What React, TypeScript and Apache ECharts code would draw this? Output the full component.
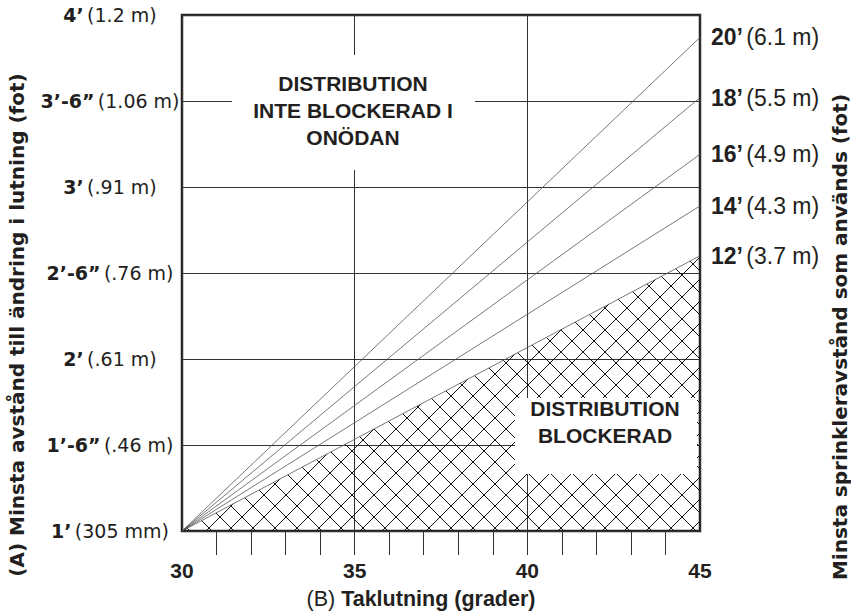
import React, { useEffect, useRef } from "react";
import * as echarts from "echarts";

// ---- data ----
const slopeStart = 30;
const slopeEnd = 45;
const xTickLabels = [30, 35, 40, 45];
const minorTickDegrees = [31, 32, 33, 34, 35, 36, 37, 38, 39, 40, 41, 42, 43, 44];
const yTickValues = [1, 1.5, 2, 2.5, 3, 3.5, 4];
const yTickFeet = ["1’", "1’-6”", "2’", "2’-6”", "3’", "3’-6”", "4’"];
const yTickMetric = ["(305 mm)", "(.46 m)", "(.61 m)", "(.76 m)", "(.91 m)", "(1.06 m)", "(1.2 m)"];
const spacingFeet = ["12’", "14’", "16’", "18’", "20’"];
const spacingMetric = ["(3.7 m)", "(4.3 m)", "(4.9 m)", "(5.5 m)", "(6.1 m)"];
const distanceAtStart = 1; // ft at 30°
const distanceAtEnd = [2.6, 2.89, 3.19, 3.52, 3.87]; // ft at 45°

const TXT = "#231f20";
const ARIAL = "'Liberation Sans', Arial, sans-serif";
const WIDE = "'DejaVu Sans', sans-serif";

function makeHatch(): HTMLCanvasElement {
  const c = document.createElement("canvas");
  c.width = 22;
  c.height = 22;
  const ctx = c.getContext("2d")!;
  ctx.strokeStyle = "#111";
  ctx.lineWidth = 1;
  ctx.beginPath();
  ctx.moveTo(6, -5); ctx.lineTo(38, 27);
  ctx.moveTo(-16, -5); ctx.lineTo(16, 27);
  ctx.moveTo(16, -5); ctx.lineTo(-16, 27);
  ctx.moveTo(38, -5); ctx.lineTo(6, 27);
  ctx.stroke();
  return c;
}

export default function App() {
  const ref = useRef<HTMLDivElement>(null);
  useEffect(() => {
    if (!ref.current) return;
    const chart = echarts.init(ref.current, undefined, { renderer: "svg" });
    const hatch = makeHatch();

    const series: any[] = distanceAtEnd.map((v, i) => ({
      type: "line",
      silent: true,
      symbol: "none",
      data: [
        [slopeStart, distanceAtStart],
        [slopeEnd, v],
      ],
      lineStyle: { color: "#555", width: 0.8 },
      z: 3,
      areaStyle:
        i === 0
          ? { color: { image: hatch, repeat: "repeat" }, origin: "start", opacity: 1 }
          : undefined,
      endLabel: {
        show: true,
        distance: 11,
        formatter: () => `{b|${spacingFeet[i]}} {r|${spacingMetric[i]}}`,
        rich: {
          b: { fontFamily: ARIAL, fontSize: 23, fontWeight: "bold", color: TXT },
          r: { fontFamily: ARIAL, fontSize: 23, color: TXT },
        },
      },
    }));

    chart.setOption({
      animation: false,
      grid: {
        left: 182,
        right: 151,
        top: 15,
        bottom: 80,
        show: true,
        borderColor: "#222",
        borderWidth: 2.5,
        backgroundColor: "transparent",
      },
      xAxis: [
        {
          type: "value",
          min: slopeStart,
          max: slopeEnd,
          interval: 5,
          axisLine: { show: false },
          axisTick: { show: false },
          axisLabel: {
            margin: 29,
            fontFamily: ARIAL,
            fontSize: 21,
            fontWeight: "bold",
            color: TXT,
            formatter: (v: number) => (xTickLabels.indexOf(v) >= 0 ? String(v) : ""),
          },
          splitLine: { show: true, lineStyle: { color: "#333", width: 1 } },
        },
        {
          type: "value",
          min: slopeStart,
          max: slopeEnd,
          interval: 1,
          position: "bottom",
          axisLine: { show: false },
          axisLabel: { show: false },
          splitLine: { show: false },
          axisTick: {
            show: true,
            customValues: minorTickDegrees,
            length: 24,
            lineStyle: { color: "#333", width: 1 },
          },
        },
      ],
      yAxis: {
        type: "value",
        min: yTickValues[0],
        max: yTickValues[yTickValues.length - 1],
        interval: 0.5,
        axisLine: { show: false },
        axisTick: { show: false },
        splitLine: { show: true, lineStyle: { color: "#333", width: 1 } },
        axisLabel: {
          align: "center",
          margin: 72,
          formatter: (v: number) => {
            const idx = yTickValues.findIndex((t) => Math.abs(t - v) < 1e-6);
            if (idx < 0) return "";
            return `{b|${yTickFeet[idx]}} {r|${yTickMetric[idx]}}`;
          },
          rich: {
            b: { fontFamily: WIDE, fontSize: 19, fontWeight: "bold", color: TXT },
            r: { fontFamily: WIDE, fontSize: 19, color: TXT },
          },
        },
      },
      series,
      graphic: [
        { type: "rect", z: 50, shape: { x: 232, y: 55, width: 243, height: 115 }, style: { fill: "#fff" } },
        {
          type: "text",
          z: 51,
          x: 353,
          y: 110,
          style: {
            text: "DISTRIBUTION\nINTE BLOCKERAD I\nONÖDAN",
            fontFamily: ARIAL,
            fontSize: 21,
            fontWeight: "bold",
            lineHeight: 27,
            fill: TXT,
            align: "center",
            verticalAlign: "middle",
          },
        },
        { type: "rect", z: 50, shape: { x: 515, y: 398, width: 182, height: 76 }, style: { fill: "#fff" } },
        {
          type: "text",
          z: 51,
          x: 605,
          y: 422,
          style: {
            text: "DISTRIBUTION\nBLOCKERAD",
            fontFamily: ARIAL,
            fontSize: 21,
            fontWeight: "bold",
            lineHeight: 27,
            fill: TXT,
            align: "center",
            verticalAlign: "middle",
          },
        },
        {
          type: "text",
          z: 51,
          x: 17,
          y: 325,
          rotation: Math.PI / 2,
          style: {
            text: "(A) Minsta avstånd till ändring i lutning (fot)",
            fontFamily: WIDE,
            fontSize: 20,
            fontWeight: "bold",
            fill: TXT,
            align: "center",
            verticalAlign: "middle",
          },
        },
        {
          type: "text",
          z: 51,
          x: 840,
          y: 337,
          rotation: Math.PI / 2,
          style: {
            text: "Minsta sprinkleravstånd som används (fot)",
            fontFamily: WIDE,
            fontSize: 20,
            fontWeight: "bold",
            fill: TXT,
            align: "center",
            verticalAlign: "middle",
          },
        },
        {
          type: "text",
          z: 51,
          x: 421,
          y: 599,
          style: {
            text: "{r|(B) }{b|Taklutning (grader)}",
            align: "center",
            verticalAlign: "middle",
            rich: {
              r: { fontFamily: ARIAL, fontSize: 21.5, fill: TXT },
              b: { fontFamily: ARIAL, fontSize: 21.5, fontWeight: "bold", fill: TXT },
            },
          },
        },
      ],
    });
    return () => chart.dispose();
  }, []);
  return (
    <div
      ref={ref}
      style={{ position: "fixed", left: 0, top: 0, width: 851, height: 611, background: "#fff" }}
    />
  );
}
